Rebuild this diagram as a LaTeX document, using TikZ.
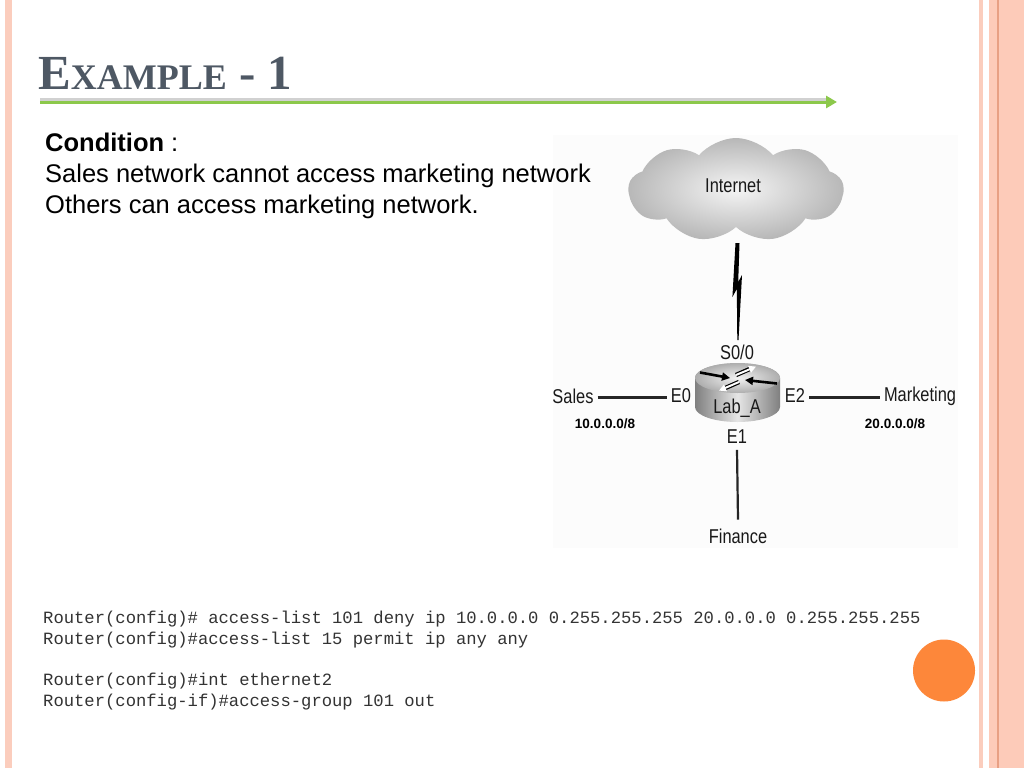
\documentclass[tikz,border=0pt]{standalone}
\usepackage{fontspec}
\setmainfont{Liberation Sans}
\newfontfamily\serifb{Liberation Serif}
\newfontfamily\monof{Liberation Mono}
\newfontfamily\narrowf[FakeStretch=0.82]{Liberation Sans}
\usetikzlibrary{shapes.symbols,arrows.meta,calc}
\definecolor{titlec}{HTML}{4E5864}
\definecolor{greenl}{HTML}{8CC84B}
\definecolor{pinka}{HTML}{FBCDBD}
\definecolor{pinkb}{HTML}{FDCBB9}
\definecolor{pinkline}{HTML}{E8A084}
\definecolor{orangec}{HTML}{FD873A}
\begin{document}
\begin{tikzpicture}[x=1pt,y=-1pt,
  lbl/.style={font=\narrowf\fontsize{20}{22}\selectfont, inner sep=2pt, outer sep=2pt, text=black!90},
  netlbl/.style={font=\bfseries\fontsize{13.5}{15}\selectfont, inner sep=1pt},
  body/.style={font=\fontsize{25.5}{30}\selectfont, anchor=base west, inner sep=0pt},
  code/.style={font=\monof\fontsize{17.2}{20}\selectfont, anchor=base west, inner sep=0pt, text=black!80},
  wire/.style={line width=2.2pt, black!85}]
\useasboundingbox (0,0) rectangle (1024,768);
\fill[white] (0,0) rectangle (1024,768);
% side stripes
\fill[pinka] (5,0) rectangle (12,768);
\fill[pinka] (979,0) rectangle (983,768);
\fill[pinkb] (989,0) rectangle (1024,768);
\fill[pinkline] (997.3,0) rectangle (998.7,768);
% diagram background
\fill[black!1.2] (553,135) rectangle (958,548);
% title
\node[anchor=base west, inner sep=0pt, text=titlec] (title) at (38,89)
  {\serifb\bfseries\fontsize{49}{49}\selectfont E\fontsize{36}{36}\selectfont XAMPLE\fontsize{49}{49}\selectfont{} - 1};
\coordinate (gl) at (40,102);
\coordinate (gr) at (837,102);
\draw[line width=3pt, black!18] ([yshift=3pt]gl) -- ([yshift=3pt,xshift=-8pt]gr);
\draw[line width=3pt, greenl, -{Triangle[length=11pt,width=12pt]}] (gl) -- (gr);
% cloud
\node[cloud, cloud puffs=9, cloud puff arc=100, aspect=2.1, minimum width=215pt, minimum height=104pt,
  inner color=black!4, outer color=black!28, draw=none] (cloud) at (736,190) {};
% condition text
\node[body] (cond) at (45,151) {\textbf{Condition} :};
\node[body] (l2) at (45,182) {Sales network cannot access marketing network};
\node[body] (l3) at (45,213) {Others can access marketing network.};
\node[lbl] (inet) at (733,186) {Internet};
% lightning bolt
\fill[black] (735.5,243) -- (739.5,243) -- (738.2,282) -- (742,275) -- (738.5,340) -- (737.3,340)
  -- (736.8,289) -- (732.4,297) -- cycle;
% router
\shade[left color=black!50, right color=black!50, middle color=black!10]
  (695,378) -- (695,407) arc[start angle=180, end angle=360, x radius=42.5pt, y radius=15pt]
  -- (780,378) arc[start angle=0, end angle=180, x radius=42.5pt, y radius=15pt] -- cycle;
\shade[inner color=black!5, outer color=black!32] (737.5,378) ellipse[x radius=42.5pt, y radius=15pt];
\draw[line width=2.6pt, -{Triangle[length=8pt,width=8pt]}] (700,372.5) -- (730,378);
\draw[line width=2.6pt, -{Triangle[length=8pt,width=8pt]}] (777,383.5) -- (745,380);
\draw[line width=4.4pt, black] (736,375) -- (752,368);
\draw[line width=2pt, white, -{Triangle[length=7pt,width=7pt]}] (736,375) -- (756,366.6);
\draw[line width=4.4pt, black] (739,382) -- (723,389);
\draw[line width=2pt, white, -{Triangle[length=7pt,width=7pt]}] (739,382) -- (719,390.6);
\node[lbl] (lab) at (737,408) {Lab\_A};
\node[lbl] (s00) at (737,352) {S0/0};
\node[lbl] (e1) at (737,437) {E1};
\node[lbl] (e0) at (681,396) {E0};
\node[lbl] (e2) at (795,396) {E2};
\node[lbl] (sales) at (573,396) {Sales};
\node[lbl] (mkt) at (920,396) {Marketing};
\node[lbl] (fin) at (738,536) {Finance};
\node[netlbl] (n1) at (605,424) {10.0.0.0/8};
\node[netlbl] (n2) at (895,424) {20.0.0.0/8};
\draw[wire] ([yshift=-1.5pt]sales.east) -- ([yshift=-1.5pt]e0.west);
\draw[wire] ([yshift=-1.5pt]e2.east) -- ([yshift=-1.5pt]mkt.west);
\draw[wire] ([yshift=-2pt]e1.south) -- ([yshift=5pt]fin.north);
% code
\node[code] (c1) at (43,623) {Router(config)\# access-list 101 deny ip 10.0.0.0 0.255.255.255 20.0.0.0 0.255.255.255};
\node[code] (c2) at (43,644) {Router(config)\#access-list 15 permit ip any any};
\node[code] (c3) at (43,685) {Router(config)\#int ethernet2};
\node[code] (c4) at (43,706) {Router(config-if)\#access-group 101 out};
% orange circle
\fill[orangec] (944,670.5) circle[radius=31pt];
\end{tikzpicture}
\end{document}
